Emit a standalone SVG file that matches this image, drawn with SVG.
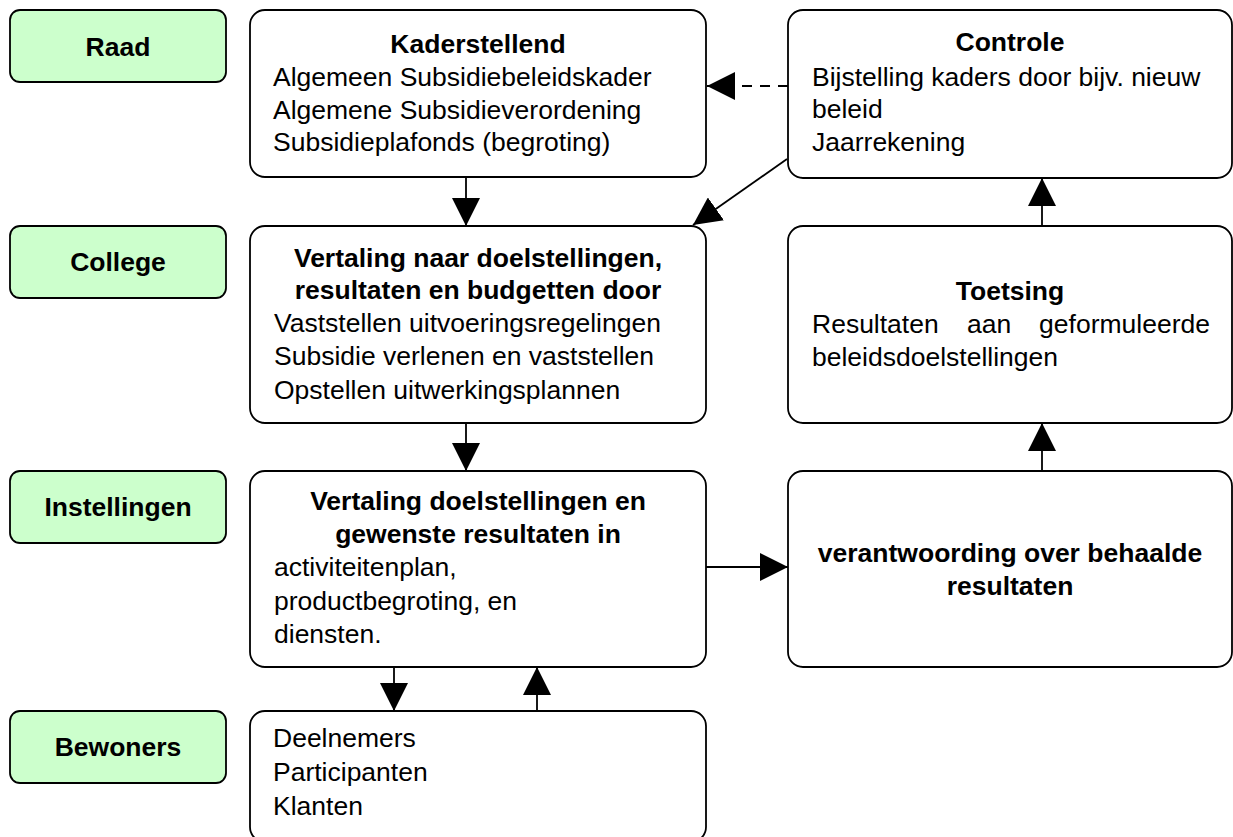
<svg xmlns="http://www.w3.org/2000/svg" width="1233" height="837" viewBox="0 0 1233 837">
<defs>
<style>
text{font-family:"Liberation Sans",Arial,Helvetica,sans-serif;font-size:26.5px;fill:#000}
.b{font-weight:bold}
.c{text-anchor:middle}
.e{text-anchor:end}
.lbl{fill:#ccffcc;stroke:#000;stroke-width:1.8}
.box{fill:#fff;stroke:#000;stroke-width:1.8}
.con{fill:none;stroke:#000;stroke-width:1.8}
.dash{stroke-dasharray:10,8}
</style>
<marker id="ah" markerUnits="userSpaceOnUse" markerWidth="28" markerHeight="28" viewBox="0 0 27 27" refX="27" refY="13.5" orient="auto">
<path d="M0,0 L27,13.5 L0,27 z" fill="#000"/>
</marker>
</defs>
<rect width="1233" height="837" fill="#fff"/>

<g id="connectors">
<line class="con" x1="466" y1="177" x2="466" y2="226" marker-end="url(#ah)"/>
<line class="con" x1="466" y1="423" x2="466" y2="471" marker-end="url(#ah)"/>
<line class="con" x1="394" y1="667" x2="394" y2="711" marker-end="url(#ah)"/>
<line class="con" x1="537" y1="711" x2="537" y2="667" marker-end="url(#ah)"/>
<line class="con" x1="706" y1="567" x2="788" y2="567" marker-end="url(#ah)"/>
<line class="con" x1="1042" y1="471" x2="1042" y2="423" marker-end="url(#ah)"/>
<line class="con" x1="1042" y1="226" x2="1042" y2="178" marker-end="url(#ah)"/>
<line class="con dash" x1="788" y1="86" x2="707" y2="86" marker-end="url(#ah)"/>
<line class="con" x1="787" y1="159" x2="693" y2="225" marker-end="url(#ah)"/>
</g>

<g id="raad">
<rect class="lbl" x="10" y="10" width="216" height="72" rx="10"/>
<text class="b c" x="118" y="56">Raad</text>
</g>
<g id="college">
<rect class="lbl" x="10" y="226" width="216" height="72" rx="10"/>
<text class="b c" x="118" y="271">College</text>
</g>
<g id="instellingen">
<rect class="lbl" x="10" y="471" width="216" height="72" rx="10"/>
<text class="b c" x="118" y="516">Instellingen</text>
</g>
<g id="bewoners">
<rect class="lbl" x="10" y="711" width="216" height="72" rx="10"/>
<text class="b c" x="118" y="756">Bewoners</text>
</g>

<g id="kaderstellend">
<rect class="box" x="250" y="10" width="456" height="167" rx="15"/>
<text class="b c" x="478" y="53">Kaderstellend</text>
<text x="273" y="86">Algemeen Subsidiebeleidskader</text>
<text x="273" y="119">Algemene Subsidieverordening</text>
<text x="273" y="151">Subsidieplafonds (begroting)</text>
</g>

<g id="controle">
<rect class="box" x="788" y="10" width="444" height="168" rx="15"/>
<text class="b c" x="1010" y="51">Controle</text>
<text x="812" y="86">Bijstelling kaders door bijv. nieuw</text>
<text x="812" y="118">beleid</text>
<text x="812" y="151">Jaarrekening</text>
</g>

<g id="vertaling-college">
<rect class="box" x="250" y="226" width="456" height="197" rx="15"/>
<text class="b c" x="478" y="267">Vertaling naar doelstellingen,</text>
<text class="b c" x="478" y="299">resultaten en budgetten door</text>
<text x="274" y="332">Vaststellen uitvoeringsregelingen</text>
<text x="274" y="365">Subsidie verlenen en vaststellen</text>
<text x="274" y="399">Opstellen uitwerkingsplannen</text>
</g>

<g id="toetsing">
<rect class="box" x="788" y="226" width="444" height="197" rx="15"/>
<text class="b c" x="1010" y="300">Toetsing</text>
<text x="812" y="333">Resultaten</text>
<text x="967" y="333">aan</text>
<text class="e" x="1210" y="333">geformuleerde</text>
<text x="812" y="366">beleidsdoelstellingen</text>
</g>

<g id="vertaling-instellingen">
<rect class="box" x="250" y="471" width="456" height="196" rx="15"/>
<text class="b c" x="478" y="510">Vertaling doelstellingen en</text>
<text class="b c" x="478" y="543">gewenste resultaten in</text>
<text x="274" y="576">activiteitenplan,</text>
<text x="274" y="610">productbegroting, en</text>
<text x="274" y="643">diensten.</text>
</g>

<g id="verantwoording">
<rect class="box" x="788" y="471" width="444" height="196" rx="15"/>
<text class="b c" x="1010" y="562">verantwoording over behaalde</text>
<text class="b c" x="1010" y="595">resultaten</text>
</g>

<g id="deelnemers">
<rect class="box" x="250" y="711" width="456" height="131" rx="15"/>
<text x="273" y="747">Deelnemers</text>
<text x="273" y="781">Participanten</text>
<text x="273" y="815">Klanten</text>
</g>
</svg>
